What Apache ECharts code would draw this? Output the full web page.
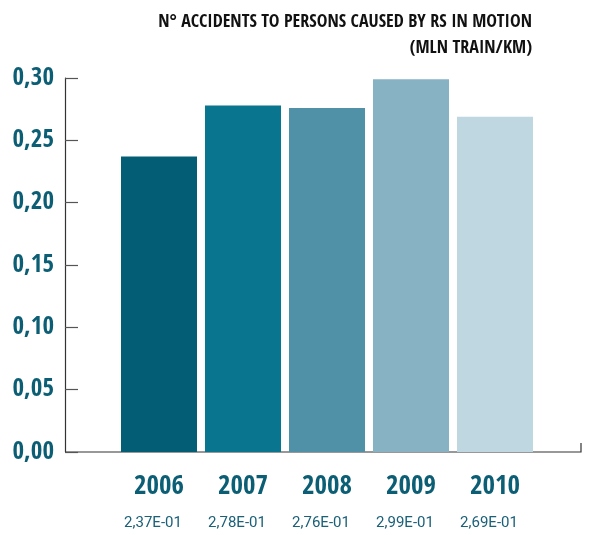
<!DOCTYPE html>
<html>
<head>
<meta charset="utf-8">
<script src="https://cdn.jsdelivr.net/npm/echarts@6/dist/echarts.min.js"></script>
<style>
  html, body { margin: 0; padding: 0; background: #fff; }
  #chart { width: 591px; height: 537px; }
</style>
</head>
<body>
<div id="chart"></div>
<script>
// Accidents to persons caused by rolling stock in motion, per million train-km
const years = ['2006', '2007', '2008', '2009', '2010'];
const rates = [0.237, 0.278, 0.276, 0.299, 0.269];
const rateLabels = ['2,37E-01', '2,78E-01', '2,76E-01', '2,99E-01', '2,69E-01'];
const barColors = ['#035d75', '#09758f', '#5091a8', '#86b2c3', '#bfd7e0'];
const yTicks = [0, 0.05, 0.10, 0.15, 0.20, 0.25, 0.30];

const narrow = '"Open Sans Condensed", "Roboto Condensed", sans-serif';
const teal = '#0b5e74';

const chart = echarts.init(document.getElementById('chart'), null, { renderer: 'canvas' });

chart.setOption({
  animation: false,
  backgroundColor: '#ffffff',
  grid: { left: 117, right: 54, top: 78, bottom: 85, containLabel: false },
  xAxis: {
    type: 'category',
    data: years,
    axisLine: { show: false },
    axisTick: { show: false },
    axisLabel: {
      margin: 20,
      interval: 0,
      formatter: function (val, idx) {
        return '{y|' + val + '}\n{v|' + rateLabels[idx] + '}';
      },
      rich: {
        y: { fontFamily: narrow, fontWeight: 'bold', fontSize: 27, color: teal, lineHeight: 30 },
        v: { fontFamily: 'Roboto, "Liberation Sans", sans-serif', fontSize: 15, color: '#1a6078', lineHeight: 42, padding: [0, 12, 0, 0] }
      }
    }
  },
  yAxis: {
    type: 'value',
    min: yTicks[0],
    max: yTicks[yTicks.length - 1],
    interval: 0.05,
    offset: 52,
    axisLine: { show: true, lineStyle: { color: '#333', width: 1.2 } },
    axisTick: { show: true, inside: true, length: 13, lineStyle: { color: '#555', width: 1.2 } },
    splitLine: { show: false },
    axisLabel: {
      margin: 11,
      fontFamily: narrow,
      fontWeight: 'bold',
      fontSize: 25,
      color: teal,
      formatter: function (v) { return v.toFixed(2).replace('.', ','); }
    }
  },
  series: [{
    type: 'bar',
    data: rates.map(function (v, i) { return { value: v, itemStyle: { color: barColors[i] } }; }),
    barCategoryGap: '9.5%'
  }],
  graphic: [
    {
      type: 'text',
      x: 532, y: 9,
      style: {
        text: 'N° ACCIDENTS TO PERSONS CAUSED BY RS IN MOTION\n(MLN TRAIN/KM)',
        align: 'right',
        fontFamily: narrow,
        fontWeight: 'bold',
        fontSize: 18,
        lineHeight: 26,
        fill: '#111'
      }
    },
    {
      type: 'polyline',
      shape: { points: [[65, 452], [581, 452], [581, 443]] },
      style: { stroke: '#333', lineWidth: 1.2, fill: null }
    }
  ]
});
</script>
</body>
</html>
